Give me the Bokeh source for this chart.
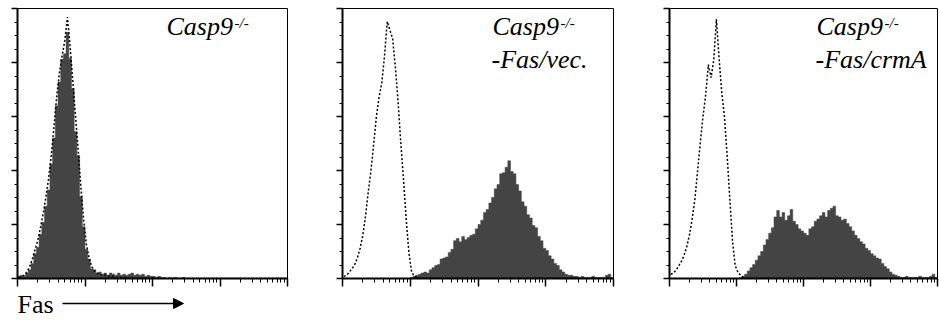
import numpy as np
from bokeh.plotting import figure
from bokeh.layouts import row, column
from bokeh.models import Range1d, FixedTicker, Label, Arrow, NormalHead
from bokeh.embed import file_html
from bokeh.resources import INLINE

# ---- data: flow-cytometry channel counts, channels of 0.04 decade over 10^0..10^4 ----
BIN_DECADES = 0.04
Y_MAX = 250
Y_TICKS = [0, 50, 100, 150, 200, 250]
X_TICKS = [1, 10, 100, 1000, 10000]

casp9_fill = [
    2, 3, 2, 5, 8, 14, 23, 29, 41, 52,
    67, 82, 106, 130, 160, 182, 203, 208, 228, 204,
    176, 136, 114, 76, 48, 27, 18, 9, 8, 5,
    6, 4, 5, 3, 5, 4, 3, 5, 3, 4,
    3, 4, 5, 3, 4, 3, 4, 2, 3, 2,
    2, 1, 2, 1, 1, 0, 1, 0, 1, 0,
    0, 1, 0, 0, 0, 0, 0, 0, 0, 0,
    0, 0, 0, 0, 0, 0, 0, 0, 0, 0,
    0, 0, 0, 0, 0, 0, 0, 0, 0, 0,
    0, 0, 0, 0, 0, 0, 0, 0, 0, 0,
]
casp9_ctrl = [
    1, 2, 3, 6, 11, 18, 27, 35, 47, 60,
    75, 92, 114, 140, 168, 190, 206, 220, 242, 214,
    182, 150, 118, 84, 54, 32, 19, 11, 7, 5,
    4, 3, 3, 2, 2, 2, 1, 1, 1, 1,
    0, 0, 0, 0, 0, 0, 0, 0, 0, 0,
    0, 0, 0, 0, 0, 0, 0, 0, 0, 0,
    0, 0, 0, 0, 0, 0, 0, 0, 0, 0,
    0, 0, 0, 0, 0, 0, 0, 0, 0, 0,
    0, 0, 0, 0, 0, 0, 0, 0, 0, 0,
    0, 0, 0, 0, 0, 0, 0, 0, 0, 0,
]
vec_fill = [
    0, 0, 0, 0, 0, 0, 0, 0, 0, 0,
    0, 0, 0, 0, 0, 0, 0, 0, 0, 0,
    0, 0, 0, 0, 0, 1, 2, 3, 4, 5,
    6, 5, 8, 10, 12, 13, 18, 19, 20, 24,
    27, 35, 37, 34, 39, 36, 38, 40, 41, 46,
    50, 54, 61, 64, 70, 75, 83, 87, 97, 98,
    103, 109, 99, 97, 87, 81, 71, 67, 59, 56,
    49, 47, 39, 35, 28, 26, 21, 18, 14, 12,
    8, 6, 4, 3, 3, 2, 2, 1, 2, 1,
    1, 1, 2, 1, 1, 1, 1, 3, 4, 1,
]
vec_ctrl = [
    2, 3, 6, 9, 13, 19, 28, 40, 58, 80,
    100, 124, 150, 168, 181, 206, 238, 230, 222, 196,
    164, 126, 92, 55, 24, 6, 2, 1, 0, 0,
    0, 0, 0, 0, 0, 0, 0, 0, 0, 0,
    0, 0, 0, 0, 0, 0, 0, 0, 0, 0,
    0, 0, 0, 0, 0, 0, 0, 0, 0, 0,
    0, 0, 0, 0, 0, 0, 0, 0, 0, 0,
    0, 0, 0, 0, 0, 0, 0, 0, 0, 0,
    0, 0, 0, 0, 0, 0, 0, 0, 0, 0,
    0, 0, 0, 0, 0, 0, 0, 0, 0, 0,
]
crma_fill = [
    0, 0, 0, 0, 0, 0, 0, 0, 0, 0,
    0, 0, 0, 0, 0, 0, 0, 0, 0, 0,
    0, 0, 0, 0, 0, 0, 1, 2, 4, 7,
    10, 13, 17, 21, 25, 31, 36, 42, 47, 57,
    63, 57, 61, 54, 58, 64, 53, 50, 46, 44,
    42, 40, 46, 48, 53, 55, 58, 61, 57, 63,
    65, 67, 58, 57, 54, 55, 51, 48, 44, 40,
    37, 34, 32, 28, 26, 23, 21, 19, 18, 14,
    11, 9, 6, 4, 3, 2, 1, 1, 2, 1,
    1, 1, 1, 2, 1, 1, 1, 2, 4, 1,
]
crma_ctrl = [
    4, 5, 8, 12, 16, 22, 30, 41, 56, 74,
    100, 126, 150, 170, 198, 186, 202, 240, 204, 172,
    150, 114, 74, 35, 12, 6, 3, 1, 0, 0,
    0, 0, 0, 0, 0, 0, 0, 0, 0, 0,
    0, 0, 0, 0, 0, 0, 0, 0, 0, 0,
    0, 0, 0, 0, 0, 0, 0, 0, 0, 0,
    0, 0, 0, 0, 0, 0, 0, 0, 0, 0,
    0, 0, 0, 0, 0, 0, 0, 0, 0, 0,
    0, 0, 0, 0, 0, 0, 0, 0, 0, 0,
    0, 0, 0, 0, 0, 0, 0, 0, 0, 0,
]

sample_line1 = "Casp9"
sample_sup = "-/-"
sample_line2 = ["", "-Fas/vec.", "-Fas/crmA"]
x_label = "Fas"

FILL = "#444444"
SERIF = "Liberation Serif"
FRAME_H = 270
TOP = 8
BOTTOM = 10


def make_panel(filled, ctrl, line2, frame_w, b_left, b_right, text_dx):
    p = figure(width=b_left + frame_w + b_right, height=TOP + FRAME_H + BOTTOM,
               x_axis_type="log",
               x_range=Range1d(1, 10000), y_range=Range1d(0, Y_MAX),
               output_backend="svg", toolbar_location=None,
               min_border_left=b_left, min_border_right=b_right,
               min_border_top=TOP, min_border_bottom=BOTTOM)
    p.xgrid.visible = False
    p.ygrid.visible = False
    p.outline_line_color = "black"
    p.outline_line_width = 1
    p.background_fill_color = "white"
    p.border_fill_color = "white"

    n = len(filled)
    edges = np.arange(n + 1) * BIN_DECADES
    centers = (edges[:-1] + edges[1:]) / 2
    vals = np.asarray(filled, dtype=float)
    # step outline of the filled histogram (one solid patch, no seams)
    sx = np.concatenate([[edges[0]], np.repeat(edges[1:-1], 2), [edges[-1]]])
    sy = np.repeat(vals, 2)
    px = np.concatenate([[edges[0]], sx, [edges[-1]]])
    py = np.concatenate([[0], sy, [0]])
    p.patch(x=10 ** px, y=py, fill_color=FILL, line_color=FILL, line_width=0.5)
    p.line(x=10 ** centers, y=ctrl, line_color="black", line_width=1.5,
           line_dash="2 2")

    minor_x = [k * 10 ** d for d in range(4) for k in range(2, 10)]
    p.xaxis.ticker = FixedTicker(ticks=X_TICKS, minor_ticks=minor_x)
    minor_y = [v + 12.5 * j for v in Y_TICKS[:-1] for j in (1, 2, 3)]
    p.yaxis.ticker = FixedTicker(ticks=Y_TICKS, minor_ticks=minor_y)
    for ax, major, minor in ((p.xaxis, 8, 4), (p.yaxis, 6, 3)):
        ax.axis_line_width = 2
        ax.axis_line_color = "black"
        ax.major_tick_in = 0
        ax.major_tick_out = major
        ax.minor_tick_in = 0
        ax.minor_tick_out = minor
        ax.major_tick_line_width = 1.5
        ax.minor_tick_line_width = 1
        ax.major_label_text_font_size = "1px"
        ax.major_label_text_alpha = 0
        ax.major_label_standoff = 0

    ppd = frame_w / 4.0
    ppu = FRAME_H / Y_MAX

    def xd(dx):
        return 10 ** (dx / ppd)

    def yd(dy):
        return dy / ppu

    p.add_layout(Label(x=xd(text_dx), y=yd(252.5), text=sample_line1,
                       text_font=SERIF, text_font_style="italic",
                       text_font_size="26px", text_baseline="alphabetic",
                       text_color="black"))
    p.add_layout(Label(x=xd(text_dx + 68), y=yd(256), text=sample_sup,
                       text_font=SERIF, text_font_style="italic",
                       text_font_size="15px", text_baseline="alphabetic",
                       text_color="black"))
    if line2:
        p.add_layout(Label(x=xd(text_dx - 1), y=yd(219), text=line2,
                           text_font=SERIF, text_font_style="italic",
                           text_font_size="26px", text_baseline="alphabetic",
                           text_color="black"))
    return p


p1 = make_panel(casp9_fill, casp9_ctrl, sample_line2[0], 270, 17, 47, 149)
p2 = make_panel(vec_fill, vec_ctrl, sample_line2[1], 271, 8, 47, 150)
p3 = make_panel(crma_fill, crma_ctrl, sample_line2[2], 268, 9, 2, 147)

# strip below the panels for the "Fas ->" axis caption (pixel-like units)
STRIP_W, STRIP_H = 939, 32
strip = figure(width=STRIP_W, height=STRIP_H, x_range=Range1d(0, STRIP_W),
               y_range=Range1d(0, STRIP_H), output_backend="svg",
               toolbar_location=None, x_axis_location=None,
               y_axis_location=None, min_border=0)
strip.xgrid.visible = False
strip.ygrid.visible = False
strip.outline_line_color = None
strip.add_layout(Label(x=17, y=16.3, text=x_label, text_font=SERIF,
                       text_font_size="26px", text_baseline="alphabetic",
                       text_color="black"))
strip.add_layout(Arrow(end=NormalHead(size=10, fill_color="black",
                                      line_color="black"),
                       x_start=62, y_start=17, x_end=183, y_end=17,
                       line_width=1.5, line_color="black"))

layout = column(row(p1, p2, p3, spacing=0), strip, spacing=0)
open("out.html", "w").write(file_html(layout, INLINE))
